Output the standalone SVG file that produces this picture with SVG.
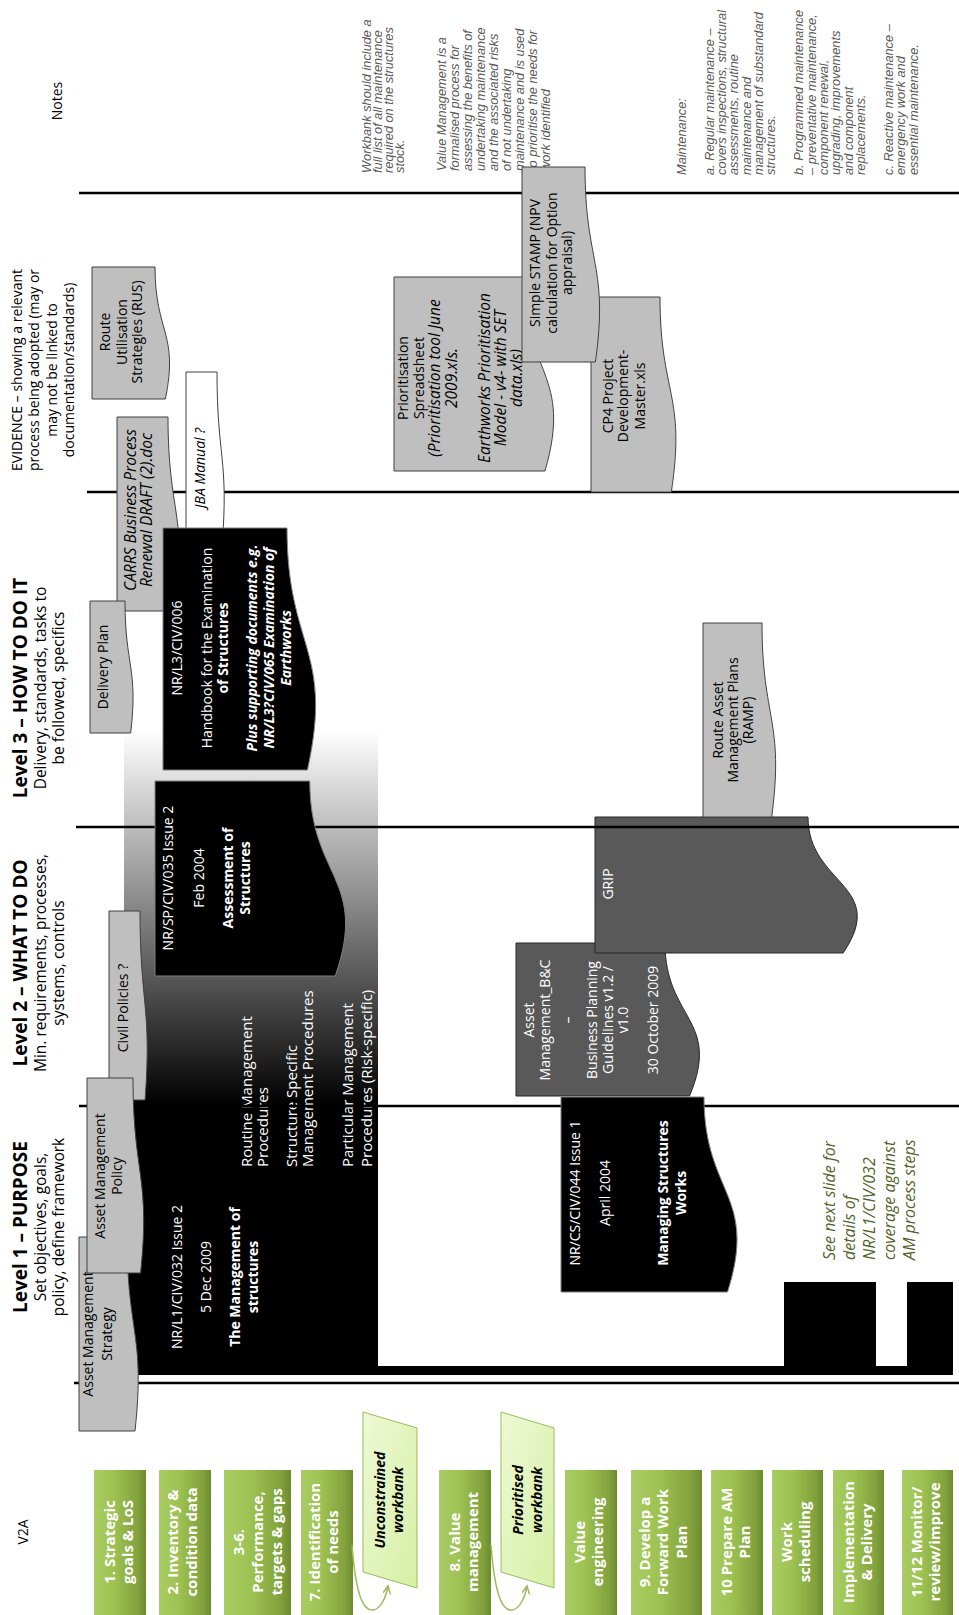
<svg xmlns="http://www.w3.org/2000/svg" width="959" height="1615" viewBox="0 0 959 1615">
<style>
.t{font-family:"Open Sans","DejaVu Sans",sans-serif;font-size:14px;fill:#000}
.w{fill:#fff}
.b{font-weight:bold}
.i{font-style:italic}
.i15{font-style:italic;font-size:15.5px}
.h{font-size:19px;font-weight:bold}
.sub{font-size:15.5px}
.g15{font-size:15px;font-weight:bold;fill:#fff}
.n{font-family:"Liberation Sans",Arial,sans-serif;font-size:12.8px;font-style:italic;fill:#595959}
.doc{fill:#bfbfbf;stroke:#404040;stroke-width:1}
.blk{fill:#000;stroke:#7f7f7f;stroke-width:1}
.dk{fill:#595959;stroke:#262626;stroke-width:1}
.ln{stroke:#000;stroke-width:2.5;fill:none}
.step{fill:url(#gstep)}
.pg{fill:url(#gpg);stroke:#9bbb59;stroke-width:1}
.conn{fill:none;stroke:#9bbb59;stroke-width:1.5}
</style>
<defs>
<linearGradient id="fade" x1="0" y1="0" x2="0" y2="1">
<stop offset="0" stop-color="#ffffff"/>
<stop offset="1" stop-color="#000000"/>
</linearGradient>
<linearGradient id="gstep" x1="0" y1="0" x2="1" y2="0">
<stop offset="0" stop-color="#aacd62"/>
<stop offset="0.4" stop-color="#9dc152"/>
<stop offset="0.85" stop-color="#81a13d"/>
<stop offset="1" stop-color="#6c8a30"/>
</linearGradient>
<linearGradient id="gpg" x1="0" y1="0" x2="1" y2="1">
<stop offset="0" stop-color="#eef9d6"/>
<stop offset="1" stop-color="#d6efa4"/>
</linearGradient>
<marker id="arr" markerWidth="10" markerHeight="10" refX="8" refY="4" orient="auto" markerUnits="userSpaceOnUse">
<path d="M0,0 L8,4 L0,8" fill="none" stroke="#9bbb59" stroke-width="1.5"/>
</marker>
</defs>
<rect width="959" height="1615" fill="#fff"/>

<!-- headers -->
<g id="headers">
<text class="t" transform="translate(0,101) rotate(-90)" text-anchor="middle"><tspan x="0" y="61.6">Notes</tspan></text>
<text class="t" transform="translate(0,370) rotate(-90)" text-anchor="middle"><tspan x="0" y="21.6">EVIDENCE – showing a relevant</tspan><tspan x="0" y="39.1">process being adopted (may or</tspan><tspan x="0" y="56.6">may not be linked to</tspan><tspan x="0" y="74.1">documentation/standards)</tspan></text>
<text class="t" transform="translate(0,688) rotate(-90)" text-anchor="middle"><tspan x="0" y="27" class="h">Level 3 – HOW TO DO IT</tspan><tspan x="0" y="45.5" class="sub">Delivery, standards, tasks to</tspan><tspan x="0" y="64" class="sub">be followed, specifics</tspan></text>
<text class="t" transform="translate(0,963) rotate(-90)" text-anchor="middle"><tspan x="0" y="27" class="h">Level 2 – WHAT TO DO</tspan><tspan x="0" y="45.5" class="sub">Min. requirements, processes,</tspan><tspan x="0" y="64" class="sub">systems, controls</tspan></text>
<text class="t" transform="translate(0,1227) rotate(-90)" text-anchor="middle"><tspan x="0" y="27" class="h">Level 1 – PURPOSE</tspan><tspan x="0" y="45.5" class="sub">Set objectives, goals,</tspan><tspan x="0" y="64" class="sub">policy, define framework</tspan></text>
<text class="t" transform="translate(0,1532) rotate(-90)" text-anchor="middle"><tspan x="0" y="27.6">V2A</tspan></text>
</g>

<!-- notes -->
<g id="notes">
<text class="n" transform="translate(0,173) rotate(-90)"><tspan x="0" y="370.5">Workbank should include a</tspan><tspan x="0" y="381.8">full list of all maintenance</tspan><tspan x="0" y="393.1">required on the structures</tspan><tspan x="0" y="404.4">stock.</tspan></text>
<text class="n" transform="translate(0,171) rotate(-90)"><tspan x="0" y="445.5">Value Management is a</tspan><tspan x="0" y="458.5">formalised process for</tspan><tspan x="0" y="471.5">assessing the benefits of</tspan><tspan x="0" y="484.5">undertaking maintenance</tspan><tspan x="0" y="497.5">and the associated risks</tspan><tspan x="0" y="510.5">of not undertaking</tspan><tspan x="0" y="523.5">maintenance and is used</tspan><tspan x="0" y="536.5">to prioritise the needs for</tspan><tspan x="0" y="549.5">work identified</tspan></text>
<text class="n" transform="translate(0,175) rotate(-90)"><tspan x="0" y="686">Maintenance:</tspan><tspan x="0" y="713.5">a. Regular maintenance –</tspan><tspan x="0" y="726">covers inspections, structural</tspan><tspan x="0" y="738">assessments, routine</tspan><tspan x="0" y="750.5">maintenance and</tspan><tspan x="0" y="763">management of substandard</tspan><tspan x="0" y="775">structures.</tspan><tspan x="0" y="803">b. Programmed maintenance</tspan><tspan x="0" y="815.5">– preventative maintenance,</tspan><tspan x="0" y="828">component renewal,</tspan><tspan x="0" y="840">upgrading, improvements</tspan><tspan x="0" y="852.5">and component</tspan><tspan x="0" y="865">replacements.</tspan><tspan x="0" y="893">c. Reactive maintenance –</tspan><tspan x="0" y="905">emergency work and</tspan><tspan x="0" y="917.5">essential maintenance.</tspan></text>
</g>

<!-- L1 structures management doc with gradient -->
<g id="n-l1-032">
<rect x="124" y="730" width="254" height="376" fill="url(#fade)"/>
<path d="M124,1106 L378,1106 L378,1366 L784,1366 L784,1282 L876,1282 L876,1366 L907,1366 L907,1282 L953,1282 L953,1375 L124,1375 Z" fill="#000"/>
<text class="t w" transform="translate(0,1277) rotate(-90)" text-anchor="middle"><tspan x="0" y="181.6">NR/L1/CIV/032 Issue 2</tspan><tspan x="0" y="210.6">5 Dec 2009</tspan><tspan x="0" y="239.6" class="b">The Management of</tspan><tspan x="0" y="257.6" class="b">structures</tspan></text>
<text class="t w" style="font-size:15px" transform="translate(0,1167) rotate(-90)"><tspan x="0" y="252">Routine Management</tspan><tspan x="0" y="268">Procedures</tspan><tspan x="0" y="297">Structure Specific</tspan><tspan x="0" y="313">Management Procedures</tspan><tspan x="0" y="353">Particular Management</tspan><tspan x="0" y="372">Procedures (Risk-specific)</tspan></text>
</g>

<g id="n-bc">
<path class="dk" d="M516,1096 L516,943 L665,943 C665,1019.5 721.8,1019.5 689.5,1096 Z"/>
<text class="t w" transform="translate(0,1020) rotate(-90)" text-anchor="middle"><tspan x="0" y="533.6">Asset</tspan><tspan x="0" y="549.6">Management_B&amp;C</tspan><tspan x="0" y="572.6">–</tspan><tspan x="0" y="596.6">Business Planning</tspan><tspan x="0" y="612.6">Guidelines v1.2 /</tspan><tspan x="0" y="627.6">v1.0</tspan><tspan x="0" y="657.6">30 October 2009</tspan></text>
</g>

<g id="n-grip">
<path class="dk" d="M595,953 L595,817 L808,817 C808,885 889.2,885 843.1,953 Z"/>
<text class="t w" transform="translate(0,884) rotate(-90)" text-anchor="middle"><tspan x="0" y="612.6">GRIP</tspan></text>
</g>

<!-- lane lines -->
<g id="lanes">
<line class="ln" x1="79" y1="193" x2="959" y2="193"/>
<line class="ln" x1="87" y1="492" x2="959" y2="492"/>
<line class="ln" x1="76" y1="827" x2="959" y2="827"/>
<line class="ln" x1="79" y1="1106" x2="959" y2="1106"/>
<line class="ln" x1="74" y1="1383" x2="959" y2="1383"/>
</g>

<g id="n-strategy">
<path class="doc" d="M79,1431 L79,1237 L127.1,1237 C127.1,1334 145.5,1334 135,1431 Z"/>
<text class="t" transform="translate(0,1334) rotate(-90)" text-anchor="middle"><tspan x="0" y="92.6">Asset Management</tspan><tspan x="0" y="111.6">Strategy</tspan></text>
</g>
<g id="n-civil">
<path class="doc" d="M109,1100 L109,911 L140,911 C140,1005.5 151.9,1005.5 145.1,1100 Z"/>
<text class="t" transform="translate(0,1008) rotate(-90)" text-anchor="middle"><tspan x="0" y="127.6">Civil Policies ?</tspan></text>
</g>
<g id="n-policy">
<path class="doc" d="M87,1273 L87,1078 L133,1078 C133,1175.5 150.6,1175.5 140.6,1273 Z"/>
<text class="t" transform="translate(0,1176) rotate(-90)" text-anchor="middle"><tspan x="0" y="104.6">Asset Management</tspan><tspan x="0" y="121.6">Policy</tspan></text>
</g>
<g id="n-l2-035">
<path class="blk" d="M155,976 L155,781 L309.8,781 C309.8,878.5 368.8,878.5 335.3,976 Z"/>
<text class="t w" transform="translate(0,878) rotate(-90)" text-anchor="middle"><tspan x="0" y="172.6">NR/SP/CIV/035 Issue 2</tspan><tspan x="0" y="203.6">Feb 2004</tspan><tspan x="0" y="232.6" class="b">Assessment of</tspan><tspan x="0" y="249.6" class="b">Structures</tspan></text>
</g>
<g id="n-carrs">
<path class="doc" d="M117,611 L117,417 L168,417 C168,514 187.4,514 176.4,611 Z"/>
<text class="t i15" transform="translate(0,510) rotate(-90)" text-anchor="middle"><tspan x="0" y="135.6">CARRS Business Process</tspan><tspan x="0" y="151.6">Renewal DRAFT (2).doc</tspan></text>
</g>
<g id="n-jba">
<path d="M186,545 L186,372 L217,372 C217,458.5 228.9,458.5 222.1,545 Z" fill="#fff" stroke="#404040" stroke-width="1"/>
<text class="t i" transform="translate(0,468) rotate(-90)" text-anchor="middle"><tspan x="0" y="204.6">JBA Manual ?</tspan></text>
</g>
<g id="n-l3-006">
<path class="blk" d="M163,770 L163,528 L287,528 C287,649 334.2,649 307.4,770 Z"/>
<text class="t w" transform="translate(0,648) rotate(-90)" text-anchor="middle"><tspan x="0" y="181.6">NR/L3/CIV/006</tspan><tspan x="0" y="211.6">Handbook for the Examination</tspan><tspan x="0" y="227.6" class="b">of Structures</tspan><tspan x="0" y="256.6" class="b i">Plus supporting documents e.g.</tspan><tspan x="0" y="273.6" class="b i">NR/L3?CIV/065 Examination of</tspan><tspan x="0" y="290.6" class="b i">Earthworks</tspan></text>
</g>
<g id="n-delivery">
<path class="doc" d="M90,733 L90,601 L125,601 C125,667 138.3,667 130.7,733 Z"/>
<text class="t" transform="translate(0,667) rotate(-90)" text-anchor="middle"><tspan x="0" y="107.6">Delivery Plan</tspan></text>
</g>
<g id="n-rus">
<path class="doc" d="M92,399 L92,267 L155,267 C155,333 179,333 165.4,399 Z"/>
<text class="t" transform="translate(0,332) rotate(-90)" text-anchor="middle"><tspan x="0" y="109.6">Route</tspan><tspan x="0" y="126.6">Utilisation</tspan><tspan x="0" y="141.6">Strategies (RUS)</tspan></text>
</g>
<g id="n-prior">
<path class="doc" d="M394,471 L394,277 L523.7,277 C523.7,374 573.1,374 545,471 Z"/>
<text class="t" transform="translate(0,378) rotate(-90)" text-anchor="middle"><tspan x="0" y="407.6">Prioritisation</tspan><tspan x="0" y="424">Spreadsheet</tspan><tspan x="0" y="440.4" class="i15">(Prioritisation tool June</tspan><tspan x="0" y="456.8" class="i15">2009.xls.</tspan><tspan x="0" y="489.6" class="i15">Earthworks Prioritisation</tspan><tspan x="0" y="506" class="i15">Model - v4- with SET</tspan><tspan x="0" y="522.4" class="i15">data.xls)</tspan></text>
</g>
<g id="n-cp4">
<path class="doc" d="M591,492 L591,297 L660,297 C660,394.5 686.2,394.5 671.3,492 Z"/>
<text class="t" transform="translate(0,396) rotate(-90)" text-anchor="middle"><tspan x="0" y="612.6">CP4 Project</tspan><tspan x="0" y="627.6">Development-</tspan><tspan x="0" y="644.6">Master.xls</tspan></text>
</g>
<g id="n-stamp">
<path class="doc" d="M522,362 L522,167 L585,167 C585,264.5 609,264.5 595.4,362 Z"/>
<text class="t" transform="translate(0,263) rotate(-90)" text-anchor="middle"><tspan x="0" y="539.6">Simple STAMP (NPV</tspan><tspan x="0" y="556.6">calculation for Option</tspan><tspan x="0" y="571.6">appraisal)</tspan></text>
</g>
<g id="n-ramp">
<path class="doc" d="M703,817 L703,623 L762,623 C762,720 784.5,720 771.7,817 Z"/>
<text class="t" transform="translate(0,720) rotate(-90)" text-anchor="middle"><tspan x="0" y="722.6">Route Asset</tspan><tspan x="0" y="737.6">Management Plans</tspan><tspan x="0" y="752.6">(RAMP)</tspan></text>
</g>
<g id="n-cs-044">
<path class="blk" d="M561,1292 L561,1097 L704,1097 C704,1194.5 758.5,1194.5 727.5,1292 Z"/>
<text class="t w" transform="translate(0,1193) rotate(-90)" text-anchor="middle"><tspan x="0" y="579.6">NR/CS/CIV/044 Issue 1</tspan><tspan x="0" y="609.6">April 2004</tspan><tspan x="0" y="667.6" class="b">Managing Structures</tspan><tspan x="0" y="685.6" class="b">Works</tspan></text>
</g>
<g id="n-seenext">
<text class="t i" style="font-size:16px;fill:#4f6228" transform="translate(0,1260) rotate(-90)"><tspan x="0" y="835.3">See next slide for</tspan><tspan x="0" y="855.3">details of</tspan><tspan x="0" y="875.3">NR/L1/CIV/032</tspan><tspan x="0" y="895.3">coverage against</tspan><tspan x="0" y="915.3">AM process steps</tspan></text>
</g>

<!-- process steps -->
<g id="s1"><rect class="step" x="94" y="1470" width="52" height="145"/><text class="t g15" transform="translate(0,1542) rotate(-90)" text-anchor="middle"><tspan x="0" y="115">1. Strategic</tspan><tspan x="0" y="133">goals &amp; LoS</tspan></text></g>
<g id="s2"><rect class="step" x="159" y="1470" width="52" height="145"/><text class="t g15" transform="translate(0,1542) rotate(-90)" text-anchor="middle"><tspan x="0" y="178">2. Inventory  &amp;</tspan><tspan x="0" y="197">condition data</tspan></text></g>
<g id="s3"><rect class="step" x="224" y="1470" width="67" height="145"/><text class="t g15" transform="translate(0,1542) rotate(-90)" text-anchor="middle"><tspan x="0" y="244">3-6.</tspan><tspan x="0" y="263">Performance,</tspan><tspan x="0" y="282">targets &amp; gaps</tspan></text></g>
<g id="s4"><rect class="step" x="301" y="1470" width="52" height="145"/><text class="t g15" transform="translate(0,1542) rotate(-90)" text-anchor="middle"><tspan x="0" y="320">7. Identification</tspan><tspan x="0" y="338">of needs</tspan></text></g>
<g id="s5"><rect class="step" x="439" y="1470" width="52" height="145"/><text class="t g15" transform="translate(0,1542) rotate(-90)" text-anchor="middle"><tspan x="0" y="460">8. Value</tspan><tspan x="0" y="478">management</tspan></text></g>
<g id="s6"><rect class="step" x="565" y="1470" width="52" height="145"/><text class="t g15" transform="translate(0,1542) rotate(-90)" text-anchor="middle"><tspan x="0" y="585">Value</tspan><tspan x="0" y="603">engineering</tspan></text></g>
<g id="s7"><rect class="step" x="631" y="1470" width="71" height="145"/><text class="t g15" transform="translate(0,1542) rotate(-90)" text-anchor="middle"><tspan x="0" y="650">9. Develop a</tspan><tspan x="0" y="668">Forward Work</tspan><tspan x="0" y="687">Plan</tspan></text></g>
<g id="s8"><rect class="step" x="711" y="1470" width="52" height="145"/><text class="t g15" transform="translate(0,1542) rotate(-90)" text-anchor="middle"><tspan x="0" y="732">10 Prepare AM</tspan><tspan x="0" y="750">Plan</tspan></text></g>
<g id="s9"><rect class="step" x="772" y="1470" width="51" height="145"/><text class="t g15" transform="translate(0,1542) rotate(-90)" text-anchor="middle"><tspan x="0" y="792">Work</tspan><tspan x="0" y="810">scheduling</tspan></text></g>
<g id="s10"><rect class="step" x="833" y="1470" width="51" height="145"/><text class="t g15" transform="translate(0,1542) rotate(-90)" text-anchor="middle"><tspan x="0" y="854">Implementation</tspan><tspan x="0" y="872">&amp; Delivery</tspan></text></g>
<g id="s11"><rect class="step" x="902" y="1470" width="51" height="145"/><text class="t g15" transform="translate(0,1542) rotate(-90)" text-anchor="middle"><tspan x="0" y="922">11/12 Monitor/</tspan><tspan x="0" y="940">review/improve</tspan></text></g>

<g id="wb-unconstrained">
<path class="pg" d="M363,1412 L417,1428 L417,1588 L363,1572 Z"/>
<text class="t b i" transform="translate(0,1500) rotate(-90)" text-anchor="middle"><tspan x="0" y="384.6">Unconstrained</tspan><tspan x="0" y="402.6">workbank</tspan></text>
</g>
<g id="wb-prioritised">
<path class="pg" d="M501,1412 L554,1428 L554,1588 L501,1572 Z"/>
<text class="t b i" transform="translate(0,1500) rotate(-90)" text-anchor="middle"><tspan x="0" y="522.6">Prioritised</tspan><tspan x="0" y="541.6">workbank</tspan></text>
</g>

<g id="connectors">
<path class="conn" marker-end="url(#arr)" d="M352,1545 C356,1598 364,1611 373,1610 C381,1609 386,1597 388,1586"/>
<path class="conn" marker-end="url(#arr)" d="M491,1545 C495,1598 503,1611 512,1610 C520,1609 525,1597 527,1586"/>
</g>
</svg>
